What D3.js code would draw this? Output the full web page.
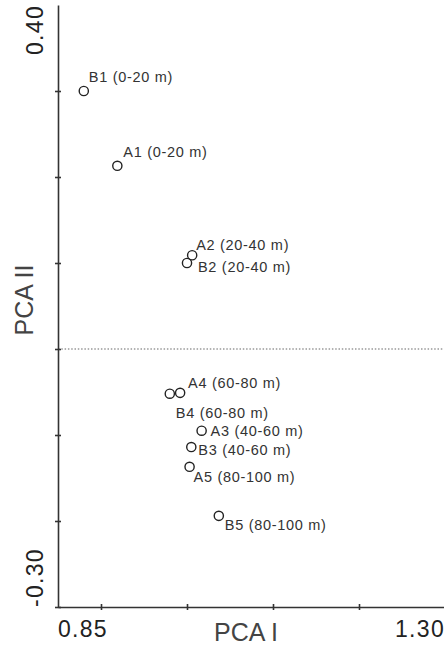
<!DOCTYPE html>
<html>
<head>
<meta charset="utf-8">
<script src="https://cdn.jsdelivr.net/npm/d3@7"></script>
<style>
  body { margin: 0; background: #fff; }
  svg { display: block; font-family: "Liberation Sans", Arial, sans-serif; }
</style>
</head>
<body>
<div id="viz-container"></div>
<script>

// sample names and scores
let samples = ["B1 (0-20 m)", "A1 (0-20 m)", "A2 (20-40 m)", "B2 (20-40 m)", "A4 (60-80 m)",
               "B4 (60-80 m)", "A3 (40-60 m)", "B3 (40-60 m)", "A5 (80-100 m)", "B5 (80-100 m)"];
let pca1 = [0.880, 0.919, 1.006, 1.000, 0.992, 0.980, 1.017, 1.005, 1.003, 1.037];
let pca2 = [0.300, 0.213, 0.109, 0.100, -0.051, -0.052, -0.095, -0.114, -0.137, -0.194];

let xDomain = [0.85, 1.30];
let yDomain = [-0.30, 0.40];
let xTicks = [0.9, 1.0, 1.1, 1.2, 1.3];
let yTicks = [-0.3, -0.2, -0.1, 0.0, 0.1, 0.2, 0.3];

// where each label sits next to its circle (dx, baseline dy)
let labelOffsets = [[5, -9], [6, -9], [4, -5], [11, 9], [8, -5],
                    [6, 24], [9, 5], [7, 8], [4, 15], [6, 14]];

let viz = d3.select("#viz-container")
              .append("svg")
                .attr("width", 444)
                .attr("height", 647)
;

let xScale = d3.scaleLinear().domain(xDomain).range([58, 445]);
let yScale = d3.scaleLinear().domain(yDomain).range([607, 5]);

// zero line
viz.append("line")
    .attr("x1", xScale(xDomain[0]))
    .attr("x2", xScale(xDomain[1]))
    .attr("y1", yScale(0))
    .attr("y2", yScale(0))
    .attr("stroke", "#666")
    .attr("stroke-width", 1.2)
    .attr("stroke-dasharray", "1.5,1.8")
;

// axes
let xAxis = d3.axisBottom(xScale).tickValues(xTicks).tickFormat("").tickSizeOuter(0);
let yAxis = d3.axisLeft(yScale).tickValues(yTicks).tickFormat("").tickSizeOuter(0);

let gx = viz.append("g").attr("transform", "translate(0," + yScale(yDomain[0]) + ")").call(xAxis);
let gy = viz.append("g").attr("transform", "translate(" + xScale(xDomain[0]) + ",0)").call(yAxis);

gx.selectAll(".tick line").attr("y1", -3).attr("y2", 3);
gy.selectAll(".tick line").attr("x1", -3).attr("x2", 3);
viz.selectAll(".domain").attr("stroke", "#333").attr("stroke-width", 1.6);
viz.selectAll(".tick line").attr("stroke", "#333").attr("stroke-width", 1.6);

// end labels on the axes
viz.append("text")
    .attr("x", xScale(xDomain[0]))
    .attr("y", 637)
    .attr("font-size", 23)
    .attr("letter-spacing", 1.3)
    .attr("fill", "#222")
    .text(xDomain[0].toFixed(2));

viz.append("text")
    .attr("x", xScale(xDomain[1]))
    .attr("y", 637)
    .attr("text-anchor", "end")
    .attr("font-size", 23)
    .attr("letter-spacing", 1.3)
    .attr("fill", "#222")
    .text(xDomain[1].toFixed(2));

viz.append("text")
    .attr("transform", "translate(43," + yScale(yDomain[1]) + ") rotate(-90)")
    .attr("text-anchor", "end")
    .attr("font-size", 23)
    .attr("letter-spacing", 1.3)
    .attr("fill", "#222")
    .text(yDomain[1].toFixed(2));

viz.append("text")
    .attr("transform", "translate(43," + yScale(yDomain[0]) + ") rotate(-90)")
    .attr("font-size", 23)
    .attr("letter-spacing", 1.3)
    .attr("fill", "#222")
    .text(yDomain[0].toFixed(2));

// axis titles
viz.append("text")
    .attr("x", 246)
    .attr("y", 641)
    .attr("text-anchor", "middle")
    .attr("font-size", 25)
    .attr("fill", "#444")
    .text("PCA I");

viz.append("text")
    .attr("transform", "translate(33,300) rotate(-90)")
    .attr("text-anchor", "middle")
    .attr("font-size", 25)
    .attr("fill", "#444")
    .text("PCA II");

// points
viz.selectAll("circle").data(samples).enter().append("circle")
    .attr("cx", function(d, i){ return xScale(pca1[i]); })
    .attr("cy", function(d, i){ return yScale(pca2[i]); })
    .attr("r", 4.6)
    .attr("fill", "none")
    .attr("stroke", "#222")
    .attr("stroke-width", 1.4)
;

viz.selectAll(".lbl").data(samples).enter().append("text")
    .attr("class", "lbl")
    .attr("x", function(d, i){ return xScale(pca1[i]) + labelOffsets[i][0]; })
    .attr("y", function(d, i){ return yScale(pca2[i]) + labelOffsets[i][1]; })
    .attr("font-size", 14.5)
    .attr("letter-spacing", 0.7)
    .attr("fill", "#333")
    .text(function(d){ return d; })
;

</script>
</body>
</html>
